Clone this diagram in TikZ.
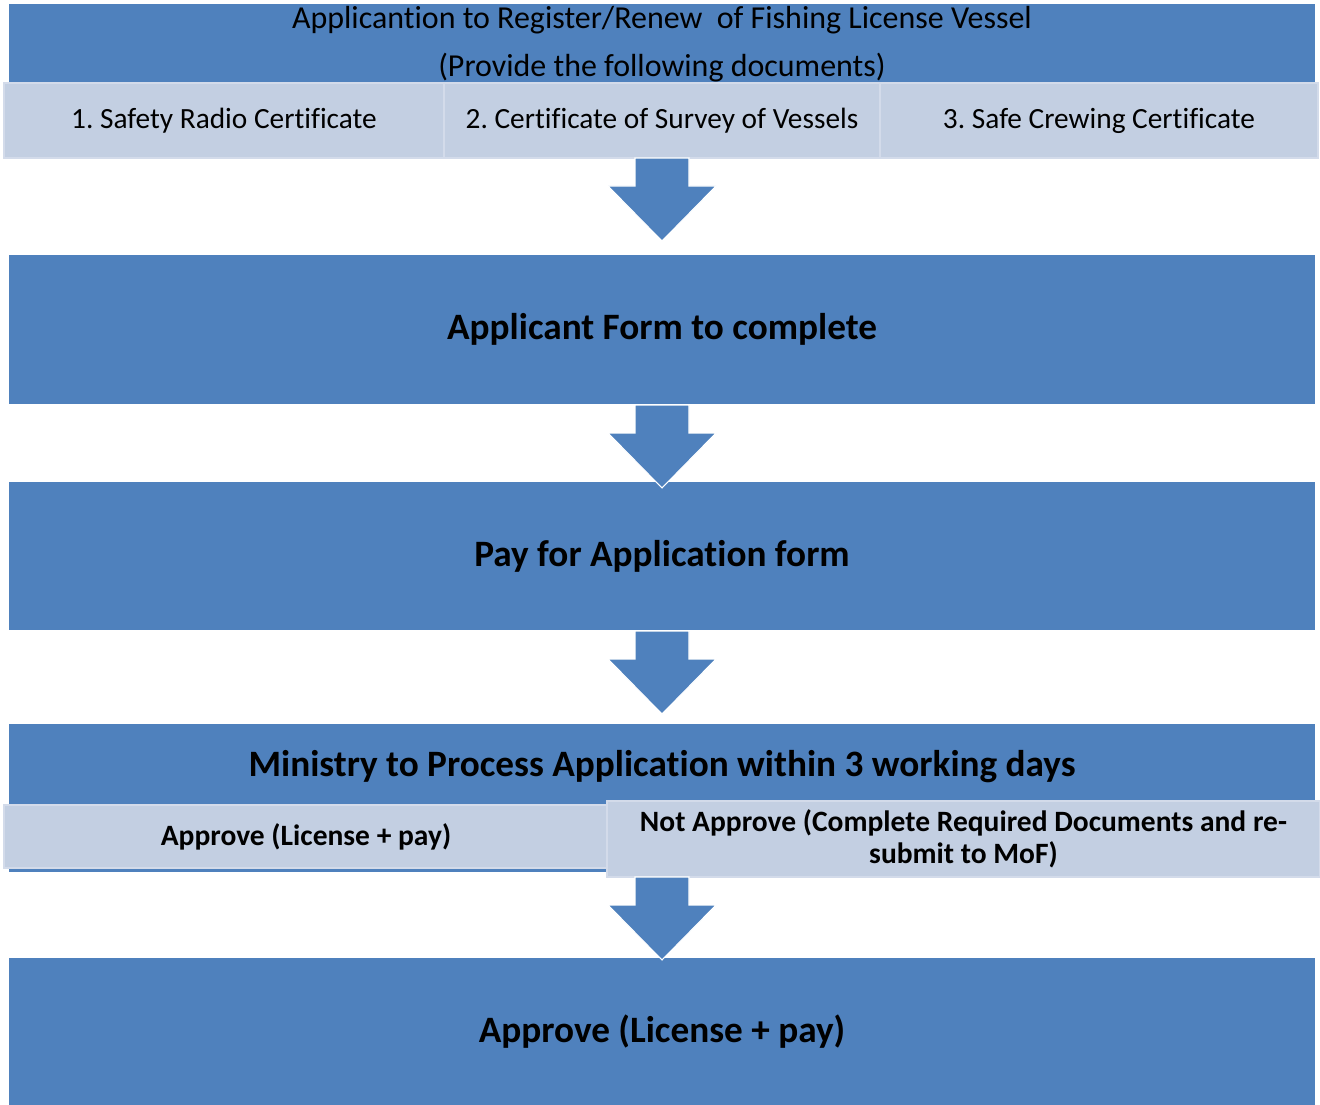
\documentclass[tikz,border=0pt]{standalone}
\usepackage{fontspec}
\setmainfont{Carlito}[Ligatures=NoCommon]
\usetikzlibrary{positioning,calc}
\frenchspacing

\newlength\px
\setlength\px{0.02cm}
\definecolor{boxblue}{HTML}{4F81BD}
\definecolor{boxlight}{HTML}{C3CFE2}
\definecolor{boxedge}{HTML}{D3DBEA}

% block arrow pointing down from a coordinate
\newcommand{\flowarrow}[1]{%
  \filldraw[flowarrow] ($(#1)+(-27,0)$) -- ($(#1)+(-27,28)$) -- ($(#1)+(-54,28)$)
    -- ($(#1)+(0,83)$) -- ($(#1)+(54,28)$) -- ($(#1)+(27,28)$) -- ($(#1)+(27,0)$) -- cycle;}

\begin{document}
\begin{tikzpicture}[
		x=1\px, y=-1\px,
		every node/.style = {
			rectangle, align=center,
			outer sep=0pt, inner sep=0pt
		},
		bluebox/.style = {fill=boxblue, draw=white, line width=0.6pt, minimum width=1308\px},
		docbox/.style = {fill=boxlight, draw=boxedge, line width=2.5\px},
		flowarrow/.style = {fill=boxblue, draw=white, line width=0.6pt},
		headtext/.style = {font=\fontsize{18.2}{27.5}\selectfont},
		doctext/.style = {font=\fontsize{16.7}{20}\selectfont},
		steptext/.style = {font=\fontsize{21.2}{25}\selectfont\bfseries},
		subtext/.style = {font=\fontsize{16.8}{18}\selectfont\bfseries}
		]
		\useasboundingbox (0,0) rectangle (1320,1105);
		% header and documents
		\node [bluebox, headtext, minimum height=82\px] (header) at (662,44)
			{Applicantion to Register/Renew\ \ of Fishing License Vessel\\(Provide the following documents)};
		\node [docbox, doctext, minimum width=440\px, minimum height=75\px] (doc1) at (224,120.5) {1. Safety Radio Certificate};
		\node [docbox, doctext, minimum width=436\px, minimum height=75\px, right=0pt of doc1] (doc2) {2. Certificate of Survey of Vessels};
		\node [docbox, doctext, minimum width=438\px, minimum height=75\px, right=0pt of doc2] (doc3) {3. Safe Crewing Certificate};
		% steps
		\node [bluebox, steptext, minimum height=151\px] (form) at (662,329.5) {Applicant Form to complete};
		\node [bluebox, steptext, minimum height=150\px] (pay) at (662,556) {Pay for Application form};
		\node [bluebox, steptext, text height=53\px, text depth=97\px] (ministry) at (662,798)
			{Ministry to Process Application within 3 working days};
		\node [docbox, subtext, minimum width=604\px, minimum height=63\px] (okay) at (306,836.5) {Approve (License + pay)};
		\node [docbox, subtext, minimum width=713\px, minimum height=76\px] (notok) at (963.5,839)
			{Not Approve (Complete Required Documents and re-\\submit to MoF)};
		\node [bluebox, steptext, minimum height=150\px] (final) at (662,1032) {Approve (License + pay)};
		% arrows
		\coordinate (drop1) at (form.north |- doc2.south);
		\coordinate (drop4) at (final.north |- notok.south);
		\flowarrow{drop1}
		\flowarrow{form.south}
		\flowarrow{pay.south}
		\flowarrow{drop4}
	\end{tikzpicture}
\end{document}
